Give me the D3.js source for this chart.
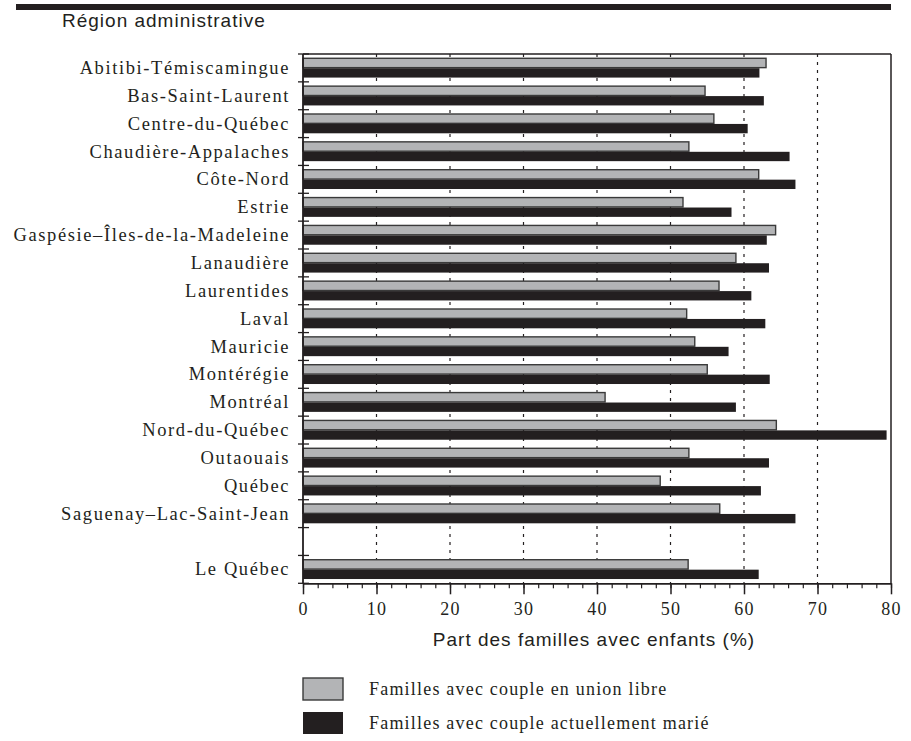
<!DOCTYPE html>
<html>
<head>
<meta charset="utf-8">
<script src="https://cdn.jsdelivr.net/npm/d3@7"></script>
<style>
  body { margin: 0; background: #fff; }
  .serif { font-family: "Liberation Serif", "Times New Roman", serif; fill: #231f20; }
  .sans { font-family: "Liberation Sans", Arial, sans-serif; fill: #231f20; }
</style>
</head>
<body>
<svg id="chart" width="911" height="741"></svg>
<script>
// regions, "" = empty row before the total
var categories = ["Abitibi-Témiscamingue", "Bas-Saint-Laurent", "Centre-du-Québec",
  "Chaudière-Appalaches", "Côte-Nord", "Estrie", "Gaspésie–Îles-de-la-Madeleine",
  "Lanaudière", "Laurentides", "Laval", "Mauricie", "Montérégie", "Montréal",
  "Nord-du-Québec", "Outaouais", "Québec", "Saguenay–Lac-Saint-Jean", "", "Le Québec"];
var unionLibre = [63.0, 54.7, 55.9, 52.5, 62.0, 51.7, 64.3, 58.9, 56.6, 52.2, 53.3, 55.0,
  41.1, 64.4, 52.5, 48.6, 56.7, null, 52.4];
var marie = [62.1, 62.7, 60.5, 66.2, 67.0, 58.3, 63.1, 63.4, 61.0, 62.9, 57.9, 63.5,
  58.9, 79.4, 63.4, 62.3, 67.0, null, 62.0];
var seriesNames = ["Familles avec couple en union libre", "Familles avec couple actuellement marié"];
var seriesColors = ["#b3b4b6", "#231f20"];
var xTicks = [0, 10, 20, 30, 40, 50, 60, 70, 80];
var gridTicks = [10, 20, 30, 40, 50, 60, 70];

var svg = d3.select("#chart");
var ink = "#231f20";
var serifFont = '"Liberation Serif", "Times New Roman", serif';

var x = d3.scaleLinear().domain([0, 80]).range([303, 891]);
var y = d3.scaleBand().domain(categories).range([54, 583.3]).padding(0);
var y1 = d3.scaleBand().domain(["libre", "marie"]).range([0, y.bandwidth()])
  .paddingInner(0.06).paddingOuter(0.43);

// thick rule at the top
svg.append("rect").attr("x", 16).attr("y", 4).attr("width", 875).attr("height", 6).attr("fill", ink);

svg.append("text").attr("class", "sans")
  .attr("x", 62).attr("y", 27)
  .style("font-size", "19px").style("letter-spacing", "1px")
  .text("Région administrative");

// dotted grid
svg.append("g").selectAll("line.grid")
  .data(gridTicks)
  .join("line")
  .classed("grid", true)
  .attr("x1", d => x(d)).attr("x2", d => x(d))
  .attr("y1", y.range()[0]).attr("y2", y.range()[1])
  .attr("stroke", ink).attr("stroke-width", 1.2)
  .attr("stroke-dasharray", "3,5");

var rows = categories.map((c, i) => ({ cat: c, libre: unionLibre[i], marie: marie[i] }))
  .filter(d => d.libre != null);

// bars
svg.append("g").selectAll("rect.libre")
  .data(rows)
  .join("rect")
  .classed("libre", true)
  .attr("x", x(0))
  .attr("y", d => y(d.cat) + y1("libre"))
  .attr("width", d => x(d.libre) - x(0))
  .attr("height", y1.bandwidth())
  .attr("fill", seriesColors[0])
  .attr("stroke", "#3a3a3a").attr("stroke-width", 1.4);

svg.append("g").selectAll("rect.marie")
  .data(rows)
  .join("rect")
  .classed("marie", true)
  .attr("x", x(0))
  .attr("y", d => y(d.cat) + y1("marie"))
  .attr("width", d => x(d.marie) - x(0))
  .attr("height", y1.bandwidth())
  .attr("fill", seriesColors[1]);

// frame: top and right
svg.append("line").attr("x1", x(0)).attr("x2", x(80)).attr("y1", y.range()[0]).attr("y2", y.range()[0])
  .attr("stroke", ink).attr("stroke-width", 1.5);
svg.append("line").attr("x1", x(80)).attr("x2", x(80)).attr("y1", y.range()[0]).attr("y2", y.range()[1])
  .attr("stroke", ink).attr("stroke-width", 1.5);

// left axis: line + ticks on band boundaries
var bounds = categories.map(c => y(c)).concat([y.range()[1]]);
svg.append("line").attr("x1", x(0)).attr("x2", x(0)).attr("y1", y.range()[0]).attr("y2", y.range()[1])
  .attr("stroke", ink).attr("stroke-width", 1.8);
svg.append("g").selectAll("line.ytick")
  .data(bounds)
  .join("line")
  .classed("ytick", true)
  .attr("x1", x(0) - 5).attr("x2", x(0) + 6)
  .attr("y1", d => d).attr("y2", d => d)
  .attr("stroke", ink).attr("stroke-width", 1.3);

svg.append("g").selectAll("text.cat")
  .data(categories)
  .join("text")
  .classed("cat serif", true)
  .attr("x", 290)
  .attr("y", d => y(d) + y.bandwidth() / 2)
  .attr("dy", "0.33em")
  .attr("text-anchor", "end")
  .style("font-size", "18.5px").style("letter-spacing", "1.6px")
  .text(d => d);

// bottom axis
var minor = svg.append("g").attr("transform", "translate(0," + y.range()[1] + ")")
  .call(d3.axisBottom(x).tickValues(d3.range(0, 81, 2)).tickSize(5).tickSizeOuter(0).tickFormat(""));
minor.selectAll("line").attr("stroke", ink).attr("stroke-width", 1.2);
minor.select(".domain").attr("stroke", ink).attr("stroke-width", 1.8);

var major = svg.append("g").attr("transform", "translate(0," + y.range()[1] + ")")
  .call(d3.axisBottom(x).tickValues(xTicks).tickSize(11).tickSizeOuter(0));
major.attr("font-family", null);
major.select(".domain").remove();
major.selectAll("line").attr("stroke", ink).attr("stroke-width", 1.5);
major.selectAll("text")
  .attr("y", 32).attr("dy", 0)
  .attr("fill", ink)
  .style("font-family", serifFont)
  .style("font-size", "18px").style("letter-spacing", "1.2px");

svg.append("text").attr("class", "sans")
  .attr("x", 594).attr("y", 646)
  .attr("text-anchor", "middle")
  .style("font-size", "19px").style("letter-spacing", "1px")
  .text("Part des familles avec enfants (%)");

// legend
var legend = svg.append("g").selectAll("g.leg")
  .data(seriesNames)
  .join("g")
  .classed("leg", true)
  .attr("transform", (d, i) => "translate(" + x(0) + "," + (678 + i * 34) + ")");
legend.append("rect")
  .attr("x", 0).attr("y", 0).attr("width", 40).attr("height", 22)
  .attr("fill", (d, i) => seriesColors[i])
  .attr("stroke", (d, i) => i == 0 ? "#3a3a3a" : "none").attr("stroke-width", 1.4);
legend.append("text")
  .attr("class", "serif")
  .attr("x", 66).attr("y", 17)
  .style("font-size", "18px").style("letter-spacing", "1.2px")
  .text(d => d);
</script>
</body>
</html>
